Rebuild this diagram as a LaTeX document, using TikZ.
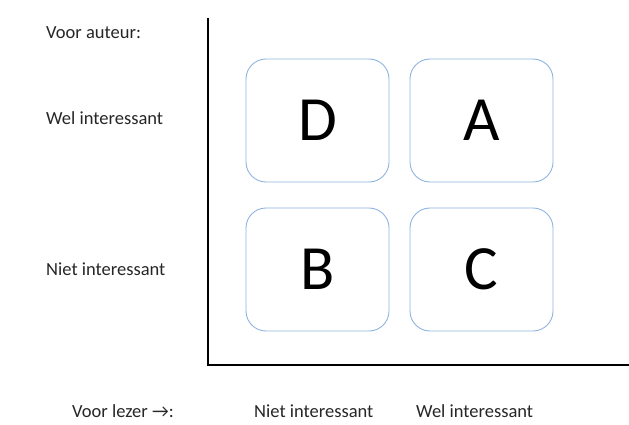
\documentclass[tikz,border=0pt]{standalone}
\usepackage{fontspec}
\setmainfont{Carlito}
\begin{document}
\begin{tikzpicture}[x=1pt,y=-1pt,
  quad/.style={draw=boxblue,line width=0.9pt,rounded corners=20pt,minimum width=143pt,minimum height=123pt,inner sep=0pt,font=\fontsize{63}{63}\selectfont},
  lbl/.style={anchor=west,inner sep=0pt,font=\fontsize{18.5}{22}\selectfont,text=black!85},
  axis/.style={line width=1.8pt,black}]
\definecolor{boxblue}{HTML}{8FB3E0}
\useasboundingbox (0,0) rectangle (629,425);
\coordinate (top) at (208,18);
\coordinate (org) at (208,365);
\coordinate (right) at (629,365);
\draw[axis] (top) -- (org) -- (right);
\node[quad] (D) at (317.5,120.5) {D};
\node[quad] (A) at (481.5,120.5) {A};
\node[quad] (B) at (317.5,269.5) {B};
\node[quad] (C) at (481.5,269.5) {C};
\node[lbl] (va) at (46,33) {Voor auteur:};
\node[lbl] (wi) at (46,118) {Wel interessant};
\node[lbl] (ni) at (46,269) {Niet interessant};
\node[lbl] (vl) at (72,411) {Voor lezer →:};
\node[lbl] (nib) at (254,411) {Niet interessant};
\node[lbl] (wib) at (416,411) {Wel interessant};
\end{tikzpicture}
\end{document}
